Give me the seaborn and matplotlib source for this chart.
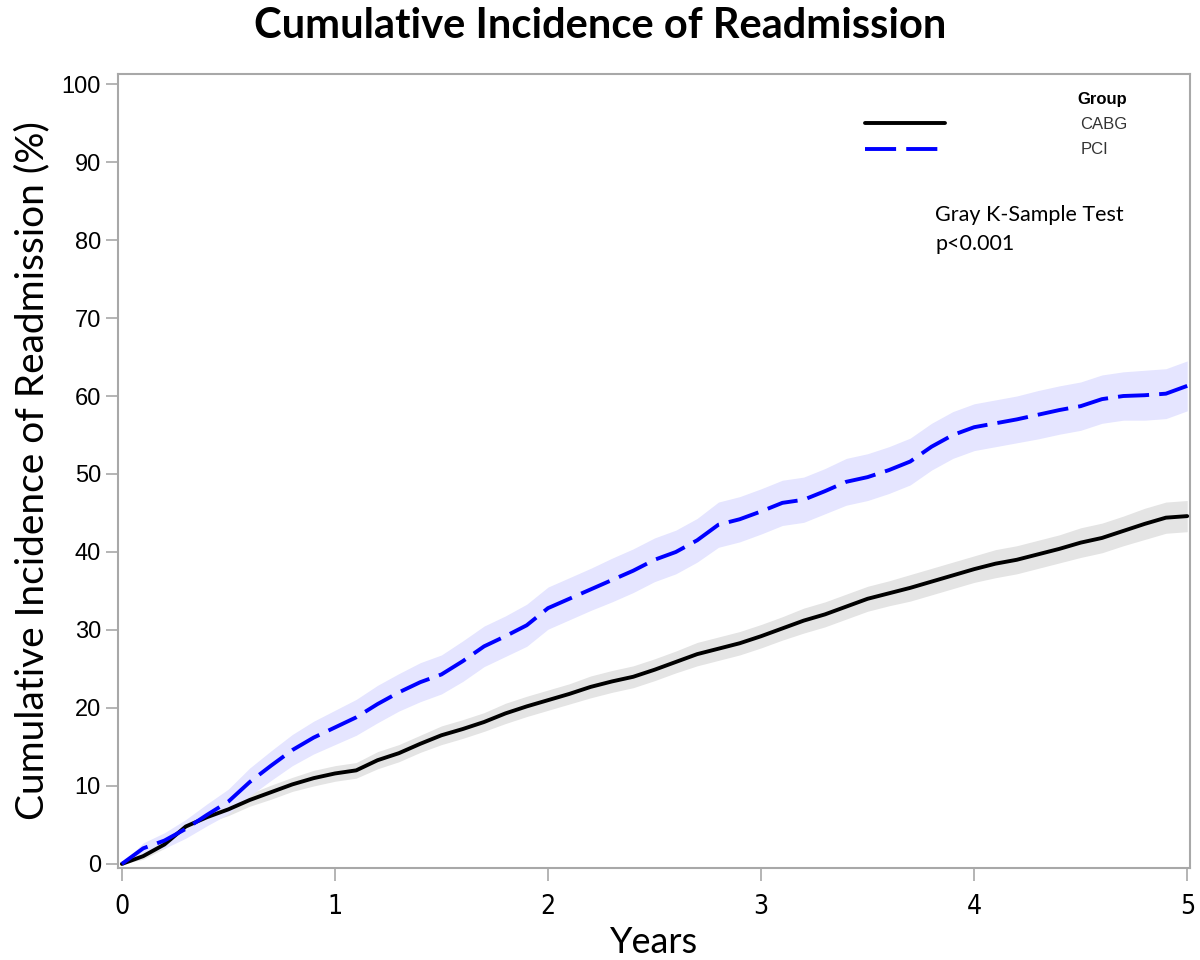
import matplotlib
matplotlib.use("Agg")
import matplotlib.pyplot as plt
from matplotlib.lines import Line2D
import numpy as np
import pandas as pd
import seaborn as sns

years = [round(0.1 * i, 1) for i in range(51)]

pci = [0.0, 2.0, 3.0, 4.5, 6.3, 8.0, 10.5, 12.6, 14.6, 16.2,
       17.5, 18.8, 20.5, 22.0, 23.3, 24.3, 26.0, 27.9, 29.2, 30.6,
       32.8, 34.0, 35.2, 36.4, 37.6, 39.0, 40.0, 41.5, 43.5, 44.2,
       45.2, 46.3, 46.7, 47.8, 49.0, 49.6, 50.5, 51.6, 53.5, 55.0,
       56.0, 56.5, 57.0, 57.6, 58.2, 58.7, 59.6, 60.0, 60.1, 60.3, 61.3]
cabg = [0.0, 1.0, 2.5, 4.8, 6.0, 7.0, 8.2, 9.2, 10.2, 11.0,
        11.6, 12.0, 13.3, 14.2, 15.4, 16.5, 17.3, 18.2, 19.3, 20.2,
        21.0, 21.8, 22.7, 23.4, 24.0, 24.9, 25.9, 26.9, 27.6, 28.3,
        29.2, 30.2, 31.2, 32.0, 33.0, 34.0, 34.7, 35.4, 36.2, 37.0,
        37.8, 38.5, 39.0, 39.7, 40.4, 41.2, 41.8, 42.7, 43.6, 44.4, 44.6]

# half widths of the confidence bands
pci_hw = [0.0, 0.7, 1.0, 1.2, 1.4, 1.6, 1.8, 1.9, 2.0, 2.1,
          2.2, 2.3, 2.4, 2.4, 2.5, 2.5, 2.6, 2.6, 2.6, 2.7,
          2.7, 2.7, 2.7, 2.8, 2.8, 2.8, 2.8, 2.8, 2.9, 2.9,
          2.9, 2.9, 2.9, 2.9, 3.0, 3.0, 3.0, 3.0, 3.0, 3.0,
          3.0, 3.0, 3.0, 3.1, 3.1, 3.1, 3.1, 3.1, 3.2, 3.2, 3.2]
cabg_hw = [0.0, 0.4, 0.5, 0.6, 0.7, 0.8, 0.8, 0.9, 0.9, 1.0,
           1.0, 1.0, 1.1, 1.1, 1.1, 1.2, 1.2, 1.2, 1.3, 1.3,
           1.3, 1.3, 1.4, 1.4, 1.4, 1.4, 1.4, 1.5, 1.5, 1.5,
           1.5, 1.5, 1.6, 1.6, 1.6, 1.6, 1.6, 1.7, 1.7, 1.7,
           1.7, 1.8, 1.8, 1.8, 1.8, 1.9, 1.9, 1.9, 2.0, 2.0, 2.0]

groups = ["CABG", "PCI"]
colors = {"CABG": "black", "PCI": "#0000ff"}
bands = {"CABG": "#e4e4e4", "PCI": "#e5e5ff"}

df = pd.concat([
    pd.DataFrame({"Years": years, "cif": cabg, "hw": cabg_hw, "Group": "CABG"}),
    pd.DataFrame({"Years": years, "cif": pci, "hw": pci_hw, "Group": "PCI"}),
])

sns.set_style("white")
plt.rcParams["text.color"] = "black"
fig = plt.figure(figsize=(12, 9.6), dpi=100)
ax = fig.add_axes([0.098, 0.096, 0.894, 0.827])

for g in groups:
    d = df[df.Group == g]
    ax.fill_between(d.Years, d.cif - d.hw, d.cif + d.hw,
                    color=bands[g], linewidth=0, zorder=1)

sns.lineplot(data=df, x="Years", y="cif", hue="Group", style="Group",
             palette=colors, dashes={"CABG": "", "PCI": (8, 2.6)},
             linewidth=2.8, legend=False, ax=ax, zorder=3)

ax.set_xlim(-0.02, 5.015)
ax.set_ylim(-0.5, 101.3)
ax.set_xticks(range(6))
ax.set_yticks(range(0, 101, 10))

for s in ax.spines.values():
    s.set_color("#a8a8a8")
    s.set_linewidth(1.5)
ax.tick_params(axis="both", direction="out", length=9, width=1.2,
               color="#a8a8a8", labelcolor="black", left=True, bottom=True)
ax.tick_params(axis="y", labelsize=17, pad=3)
ax.tick_params(axis="x", labelsize=19, pad=10)
for lab in ax.get_yticklabels():
    lab.set_family(["Liberation Sans", "DejaVu Sans"])
for lab in ax.get_xticklabels():
    lab.set_family(["DejaVu Sans"])
    lab.set_stretch("condensed")

ax.set_xlabel("Years", fontsize=26, family=["Lato", "DejaVu Sans"],
              labelpad=4, color="black")
ax.set_ylabel("Cumulative Incidence of Readmission (%)", fontsize=28,
              family=["Lato", "DejaVu Sans"], color="black")
ax.yaxis.set_label_coords(-0.063, 0.5)
fig.suptitle("Cumulative Incidence of Readmission", x=0.5, y=0.993,
             fontsize=30, fontweight="bold", family=["Lato", "DejaVu Sans"],
             color="black")

handles = [Line2D([], [], color="black", lw=2.8),
           Line2D([], [], color="#0000ff", lw=2.8, dashes=(8, 2.6))]
leg = ax.legend(handles, groups, title="Group", loc="upper right",
                bbox_to_anchor=(0.95, 0.989), frameon=False,
                handlelength=4.8, handletextpad=8.1, labelspacing=0.62,
                borderpad=0.05, alignment="right",
                prop={"family": ["Liberation Sans", "DejaVu Sans"], "size": 12})
leg.get_title().set_fontsize(12)
leg.get_title().set_fontweight("bold")
leg.get_title().set_family(["Liberation Sans", "DejaVu Sans"])
for t in leg.get_texts():
    t.set_color("#333333")

ax.text(0.762, 0.835, "Gray K-Sample Test\np<0.001", transform=ax.transAxes,
        fontsize=15.5, family=["Lato", "DejaVu Sans"], va="top", linespacing=1.55)

fig.savefig("out.png", dpi=100)
